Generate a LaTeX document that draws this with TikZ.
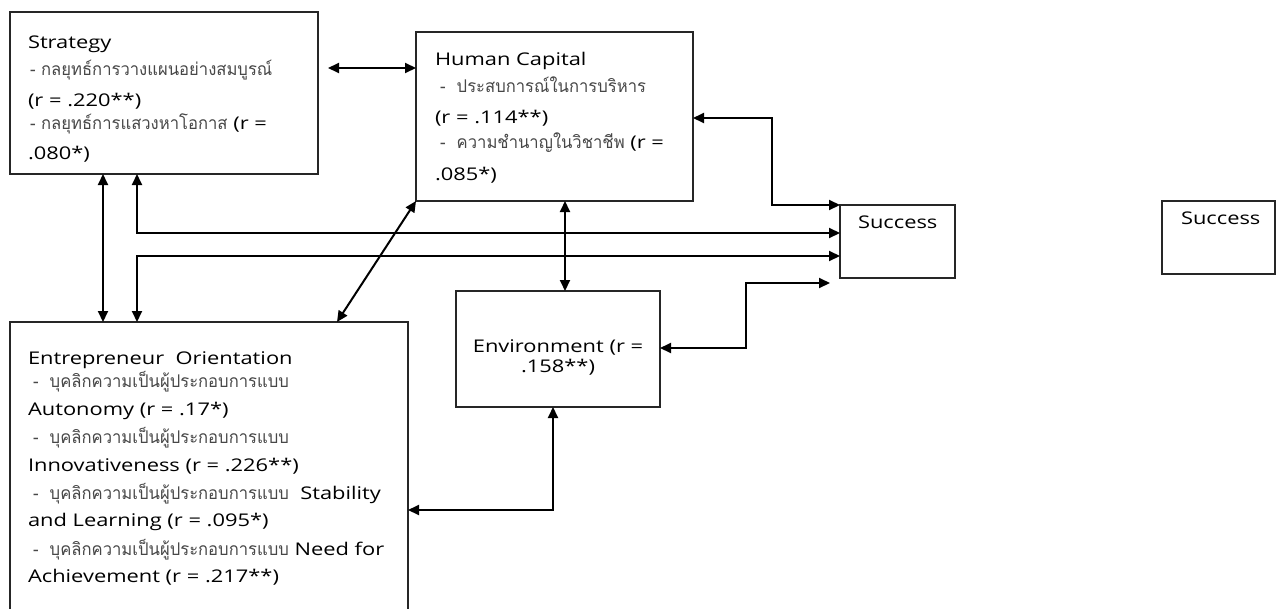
\documentclass[tikz,border=0pt]{standalone}
\usepackage{fontspec}
\setmainfont{Open Sans}[FakeStretch=1.25]
\newfontfamily\thaifnt[Script=Thai,FakeStretch=0.95]{Loma}
\usetikzlibrary{arrows.meta}
\newcommand\latsz{\fontsize{17.5}{20}\selectfont}
\newcommand\thx[1]{{\thaifnt\fontsize{17.5}{20}\selectfont\color{black!72}#1}}
\tikzset{
  box/.style={draw=black!85, line width=1.4pt, rectangle, inner sep=0pt, outer sep=0pt, anchor=north west},
  txt/.style={anchor=base west, inner sep=0pt, outer sep=0pt, font=\latsz},
  ctxt/.style={anchor=base, inner sep=0pt, outer sep=0pt, font=\latsz},
  arr/.style={line width=2pt, {Triangle[length=11pt,width=10pt]}-{Triangle[length=11pt,width=10pt]}}
}
\begin{document}
\begin{tikzpicture}[x=1pt,y=-1pt]
\useasboundingbox (0,0) rectangle (1276,608);
% boxes
\node[box, minimum width=308pt, minimum height=162pt] (strat) at (10,12) {};
\node[box, minimum width=277pt, minimum height=169pt] (hc) at (416,32) {};
\node[box, minimum width=398pt, minimum height=300pt] (eo) at (10,322) {};
\node[box, minimum width=204pt, minimum height=116pt] (env) at (456,291) {};
\node[box, minimum width=115pt, minimum height=73pt] (succ) at (840,205) {};
\node[box, minimum width=113pt, minimum height=73pt] (succb) at (1162,201) {};
% strategy text
\node[txt] (s1) at (28,48) {Strategy};
\node[txt] (s2) at (30,75) {\thx{ - กลยุทธ์การวางแผนอย่างสมบูรณ์}};
\node[txt] (s3) at (28,106) {(r = .220**)};
\node[txt] (s4) at (30,129) {\thx{ - กลยุทธ์การแสวงหาโอกาส} (r =};
\node[txt] (s5) at (28,159) {.080*)};
% human capital text
\node[txt] (h1) at (435,65) {Human Capital};
\node[txt] (h2) at (440,92) {\thx{ - \ ประสบการณ์ในการบริหาร}};
\node[txt] (h3) at (435,123) {(r = .114**)};
\node[txt] (h4) at (440,148) {\thx{ - \ ความชำนาญในวิชาชีพ} (r =};
\node[txt] (h5) at (435,180) {.085*)};
% EO text
\node[txt] (e1) at (28,364) {Entrepreneur\ \ Orientation};
\node[txt] (e2) at (33,387) {\thx{ - \ บุคลิกความเป็นผู้ประกอบการแบบ}};
\node[txt] (e3) at (28,415) {Autonomy (r = .17*)};
\node[txt] (e4) at (33,443) {\thx{ - \ บุคลิกความเป็นผู้ประกอบการแบบ}};
\node[txt] (e5) at (28,471) {Innovativeness (r = .226**)};
\node[txt] (e6) at (33,499) {\thx{ - \ บุคลิกความเป็นผู้ประกอบการแบบ} \ Stability};
\node[txt] (e7) at (28,526) {and Learning (r = .095*)};
\node[txt] (e8) at (33,555) {\thx{ - \ บุคลิกความเป็นผู้ประกอบการแบบ} Need for};
\node[txt] (e9) at (28,582) {Achievement (r = .217**)};
% environment text
\node[ctxt] (v1) at (558,352) {Environment (r =};
\node[ctxt] (v2) at (558,372) {.158**)};
% success text
\node[txt] (u1) at (858,228) {Success};
\node[txt] (u2) at (1181,224) {Success};
% helper coordinates
\coordinate (a1) at (328,68);
\coordinate (x1) at (103,0);
\coordinate (x2) at (137,0);
\coordinate (y1) at (0,233);
\coordinate (y2) at (0,256);
\coordinate (x3) at (337,0);
\coordinate (x4) at (565,0);
\coordinate (y3) at (0,118);
\coordinate (x5) at (772,0);
\coordinate (y4) at (0,348);
\coordinate (x6) at (746,0);
\coordinate (a2) at (830,283);
\coordinate (x7) at (553,0);
\coordinate (y5) at (0,510);
% connectors
\draw[arr] (a1) -- (a1 -| hc.west);
\draw[arr] (x1 |- strat.south) -- (x1 |- eo.north);
\draw[arr] (x2 |- strat.south) -- (x2 |- y1) -- (y1 -| succ.west);
\draw[arr] (x2 |- eo.north) -- (x2 |- y2) -- (y2 -| succ.west);
\draw[arr] (hc.south west) -- (x3 |- eo.north);
\draw[arr] (x4 |- hc.south) -- (x4 |- env.north);
\draw[arr] (y3 -| hc.east) -- (x5 |- y3) -- (x5 |- succ.north) -- (succ.north west);
\draw[arr] (y4 -| env.east) -- (x6 |- y4) -- (x6 |- a2) -- (a2);
\draw[arr] (x7 |- env.south) -- (x7 |- y5) -- (y5 -| eo.east);
\end{tikzpicture}
\end{document}
